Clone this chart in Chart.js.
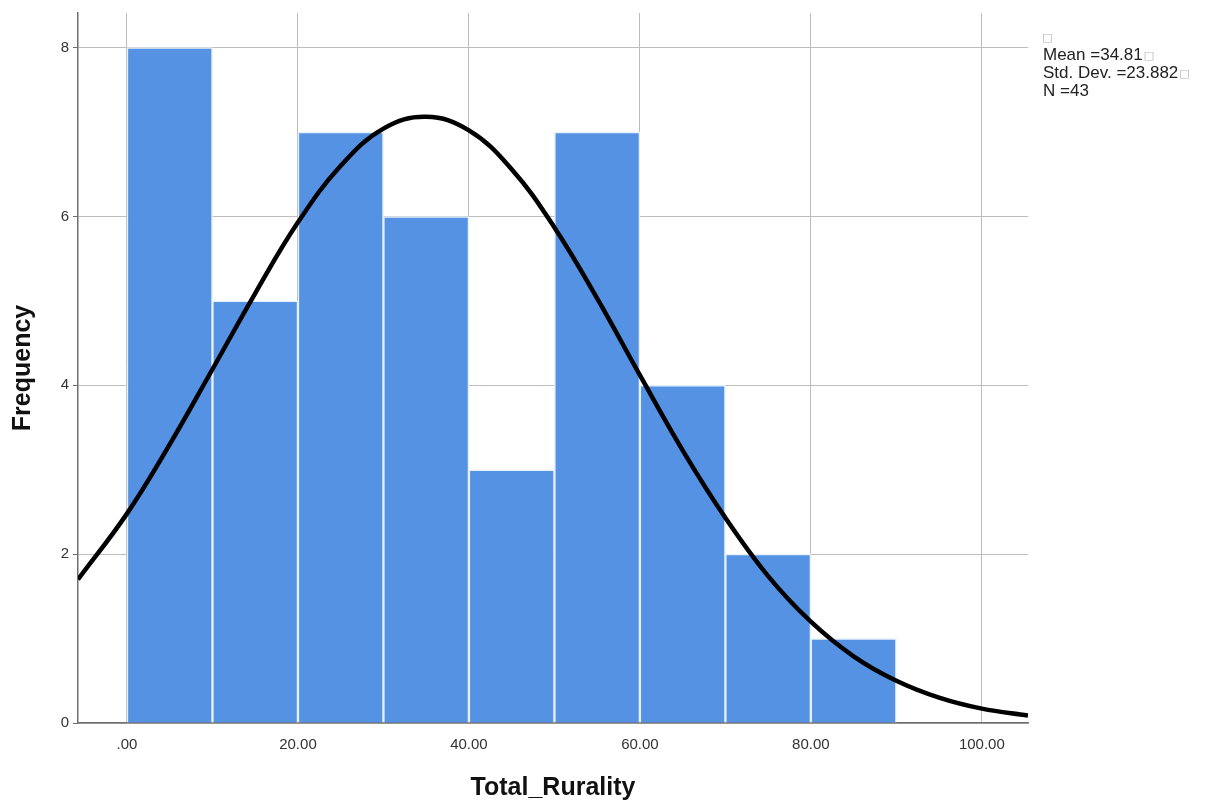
<!DOCTYPE html>
<html>
<head>
<meta charset="utf-8">
<script src="https://cdn.jsdelivr.net/npm/chart.js@4"></script>
<style>
  html, body { margin: 0; padding: 0; background: #fff; }
  #wrap { width: 1206px; height: 806px; }
</style>
</head>
<body>
<div id="wrap"><canvas id="hist"></canvas></div>
<script>
// histogram bins (midpoints) and counts
const binMids = [5, 15, 25, 35, 45, 55, 65, 75, 85];
const counts = [8, 5, 7, 6, 3, 7, 4, 2, 1];

// normal curve
const curveX = [-5.73, 0, 5, 10, 15, 20, 25, 30, 35, 40, 45, 50, 55, 60, 65, 70, 75, 80, 85, 90, 95, 100, 105.4];
const curveY = [1.70, 2.48, 3.30, 4.19, 5.09, 5.93, 6.60, 7.04, 7.18, 7.02, 6.56, 5.87, 5.03, 4.12, 3.23, 2.43, 1.74, 1.20, 0.79, 0.50, 0.30, 0.17, 0.09];

const xTicks = [0, 20, 40, 60, 80, 100];
const yTicks = [0, 2, 4, 6, 8];
const statLines = ['Mean =34.81', 'Std. Dev. =23.882', 'N =43'];

const tickFont = { family: 'Liberation Sans, Arial, sans-serif', size: 15 };
const titleFont = { family: 'Liberation Sans, Arial, sans-serif', size: 25, weight: 'bold' };

const statsBox = {
  id: 'statsBox',
  afterDraw(chart) {
    const ctx = chart.ctx;
    const x = 1043;
    ctx.save();
    ctx.textBaseline = 'alphabetic';
    ctx.font = '17px "Liberation Sans", Arial, sans-serif';
    // missing-glyph boxes as in the original
    const box = (bx, by) => {
      ctx.save();
      ctx.font = '11px "DejaVu Sans", sans-serif';
      ctx.fillStyle = '#b0b0b0';
      ctx.fillText('\u25A1', bx, by);
      ctx.restore();
    };
    box(x - 1, 41);
    ctx.fillStyle = '#222';
    statLines.forEach(function(t, i) {
      const y = 60 + i * 18;
      ctx.fillText(t, x, y);
      if (i < 2) box(x + ctx.measureText(t).width + 1, y - 1);
    });
    ctx.restore();
  }
};

new Chart(document.getElementById('hist'), {
  type: 'bar',
  data: {
    datasets: [
      {
        type: 'line',
        data: curveX.map(function(v, i) { return { x: v, y: curveY[i] }; }),
        borderColor: '#000',
        borderWidth: 4.5,
        pointRadius: 0,
        tension: 0.4,
        fill: false,
        order: 0
      },
      {
        type: 'bar',
        data: binMids.map(function(v, i) { return { x: v, y: counts[i] }; }),
        backgroundColor: '#5592E3',
        borderColor: '#E6F0FB',
        borderWidth: 1.5,
        borderSkipped: 'bottom',
        barPercentage: 1,
        categoryPercentage: 1,
        order: 1
      }
    ]
  },
  options: {
    responsive: true,
    maintainAspectRatio: false,
    animation: false,
    layout: { padding: { left: 0, right: 178, top: 12, bottom: 0 } },
    plugins: { legend: { display: false }, tooltip: { enabled: false } },
    scales: {
      x: {
        type: 'linear',
        min: -5.73,
        max: 105.4,
        offset: false,
        afterBuildTicks: function(s) { s.ticks = xTicks.map(function(v) { return { value: v }; }); },
        afterFit: function(s) { s.height = 83; },
        ticks: {
          color: '#333',
          font: tickFont,
          padding: 13,
          callback: function(v) { return v === 0 ? '.00' : v.toFixed(2); }
        },
        grid: { color: '#bdbdbd', lineWidth: 1, drawTicks: false, offset: false },
        border: { color: '#6e6e6e', width: 1.5 },
        title: { display: true, text: 'Total_Rurality', color: '#111', font: titleFont, padding: { top: 0, bottom: 3 } }
      },
      y: {
        min: 0,
        max: 8.41,
        afterBuildTicks: function(s) { s.ticks = yTicks.map(function(v) { return { value: v }; }); },
        afterFit: function(s) { s.width = 78; },
        ticks: { color: '#333', font: tickFont, padding: 4 },
        grid: { color: '#bdbdbd', lineWidth: 1, tickLength: 5, tickColor: '#6e6e6e' },
        border: { color: '#6e6e6e', width: 1.5 },
        title: { display: true, text: 'Frequency', color: '#111', font: titleFont, padding: { top: 8, bottom: 0 } }
      }
    }
  },
  plugins: [statsBox]
});
</script>
</body>
</html>
